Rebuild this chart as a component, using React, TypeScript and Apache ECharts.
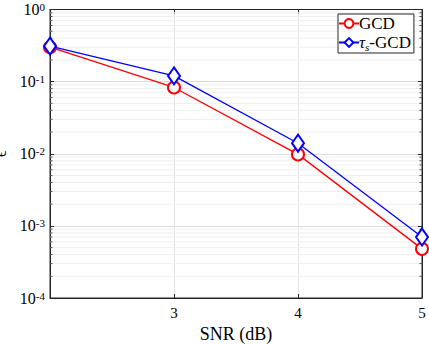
import React, { useEffect, useRef } from "react";
import * as echarts from "echarts";

const SNR = [2, 3, 4, 5];
const GCD = [0.3, 0.083, 0.0098, 0.00048];
const TAU_GCD = [0.31, 0.12, 0.014, 0.0007];
const SERIES_NAMES = ["GCD", "τs-GCD"];
const Y_DECADES = [1e-4, 1e-3, 1e-2, 1e-1];
const MINOR_MULT = [2, 3, 4, 5, 6, 7, 8, 9];

const FONT = "Liberation Serif";

export default function App() {
  const ref = useRef<HTMLDivElement>(null);
  useEffect(() => {
    if (!ref.current) return;
    const chart = echarts.init(ref.current, null, { renderer: "svg" });
    const minor: number[][] = [];
    Y_DECADES.forEach((d) => MINOR_MULT.forEach((m) => minor.push([2, d * m])));
    const axisColor = "#262626";
    const expLabel = (v: number) => {
      const e = Math.round(Math.log10(v));
      return "{b|10}{e|" + e + "}";
    };
    chart.setOption({
      animation: false,
      backgroundColor: "#ffffff",
      grid: {
        left: 50, right: 7, top: 9.5, bottom: 46,
        outerBoundsMode: "none", containLabel: false,
        show: true, borderColor: axisColor, borderWidth: 1, backgroundColor: "#fff",
      },
      legend: {
        left: 338,
        top: 14,
        orient: "vertical",
        backgroundColor: "#fff",
        borderColor: axisColor,
        borderWidth: 1,
        borderRadius: 0,
        padding: [1, 3, 1, 0],
        itemGap: 2,
        itemWidth: 20,
        itemHeight: 11,
        data: SERIES_NAMES,
        formatter: (name: string) => (name === SERIES_NAMES[1] ? "{i|τ}{s|s}{t|-GCD}" : "{t|GCD}"),
        textStyle: {
          fontFamily: FONT,
          fontSize: 17,
          color: "#000",
          padding: [0, 0, 0, -5],
          rich: {
            t: { fontFamily: FONT, fontSize: 17, color: "#000", height: 19 },
            i: { fontFamily: FONT, fontSize: 17, fontStyle: "italic", color: "#000", height: 19 },
            s: { fontFamily: FONT, fontSize: 11, fontStyle: "italic", color: "#000", verticalAlign: "bottom", padding: [7, 0, 0, 0] },
          },
        },
      },
      xAxis: [
        {
          type: "value",
          min: 2,
          max: 5,
          interval: 1,
          name: "SNR (dB)",
          nameLocation: "middle",
          nameGap: 24,
          nameTextStyle: { fontFamily: FONT, fontSize: 18, color: "#000" },
          axisLine: { show: true, lineStyle: { color: axisColor } },
          axisTick: { inside: true, length: 4, lineStyle: { color: axisColor } },
          axisLabel: { fontFamily: FONT, fontSize: 15, color: "#000", margin: 7, formatter: (v: number) => (v === 2 ? "" : String(v)) },
          splitLine: { show: true, lineStyle: { color: "#e3e3e3", width: 1 } },
        },
        {
          type: "value",
          min: 2,
          max: 5,
          interval: 1,
          position: "top",
          axisLine: { show: true, lineStyle: { color: axisColor } },
          axisTick: { inside: true, length: 4, lineStyle: { color: axisColor } },
          axisLabel: { show: false },
          splitLine: { show: false },
        },
      ],
      yAxis: [
        {
          type: "log",
          logBase: 10,
          min: 1e-4,
          max: 1,
          name: "ϵ",
          nameLocation: "middle",
          nameRotate: 90,
          nameGap: 30,
          nameTextStyle: { fontFamily: FONT, fontSize: 16, color: "#000" },
          axisLine: { show: true, lineStyle: { color: axisColor } },
          axisTick: { inside: true, length: 4, lineStyle: { color: axisColor } },
          axisLabel: {
            formatter: expLabel,
            margin: 5,
            fontFamily: FONT,
            fontSize: 16,
            color: "#000",
            rich: {
              b: { fontFamily: FONT, fontSize: 16, color: "#000", verticalAlign: "bottom", lineHeight: 16 },
              e: { fontFamily: FONT, fontSize: 11, color: "#000", verticalAlign: "top", lineHeight: 11, padding: [0, 0, 8, 0] },
            },
          },
          splitLine: { show: true, lineStyle: { color: "#dcdcdc", width: 1 } },
        },
        {
          type: "log",
          logBase: 10,
          min: 1e-4,
          max: 1,
          position: "right",
          axisLine: { show: true, lineStyle: { color: axisColor } },
          axisTick: { inside: true, length: 4, lineStyle: { color: axisColor } },
          axisLabel: { show: false },
          splitLine: { show: false },
        },
      ],
      series: [
        {
          type: "custom",
          silent: true,
          z: 1,
          xAxisIndex: 0,
          yAxisIndex: 0,
          data: minor,
          renderItem: (params: any, api: any) => {
            const v = api.value(1);
            const a = api.coord([2, v]);
            const b = api.coord([5, v]);
            return {
              type: "group",
              children: [
                { type: "line", shape: { x1: a[0], y1: a[1], x2: b[0], y2: b[1] }, style: { stroke: "#efefef", lineWidth: 1 } },
                { type: "line", shape: { x1: a[0], y1: a[1], x2: a[0] + 2.5, y2: a[1] }, style: { stroke: axisColor, lineWidth: 0.8 } },
                { type: "line", shape: { x1: b[0] - 2.5, y1: b[1], x2: b[0], y2: b[1] }, style: { stroke: axisColor, lineWidth: 0.8 } },
              ],
            };
          },
        },
        {
          name: SERIES_NAMES[0],
          type: "line",
          z: 3,
          data: SNR.map((x, i) => [x, GCD[i]]),
          color: "#ff0000",
          lineStyle: { color: "#ff0000", width: 1.3 },
          symbol: "emptyCircle",
          symbolSize: 12,
          itemStyle: { color: "#ff0000", borderColor: "#ff0000", borderWidth: 1.3 },
        },
        {
          name: SERIES_NAMES[1],
          type: "line",
          z: 4,
          data: SNR.map((x, i) => [x, TAU_GCD[i]]),
          color: "#0000ff",
          lineStyle: { color: "#0000ff", width: 1.3 },
          symbol: "emptyDiamond",
          symbolSize: [12, 17],
          itemStyle: { color: "#0000ff", borderColor: "#0000ff", borderWidth: 1.3 },
        },
      ],
    });
    return () => chart.dispose();
  }, []);
  return <div ref={ref} style={{ position: "fixed", left: 0, top: 0, width: 429, height: 344 }} />;
}
